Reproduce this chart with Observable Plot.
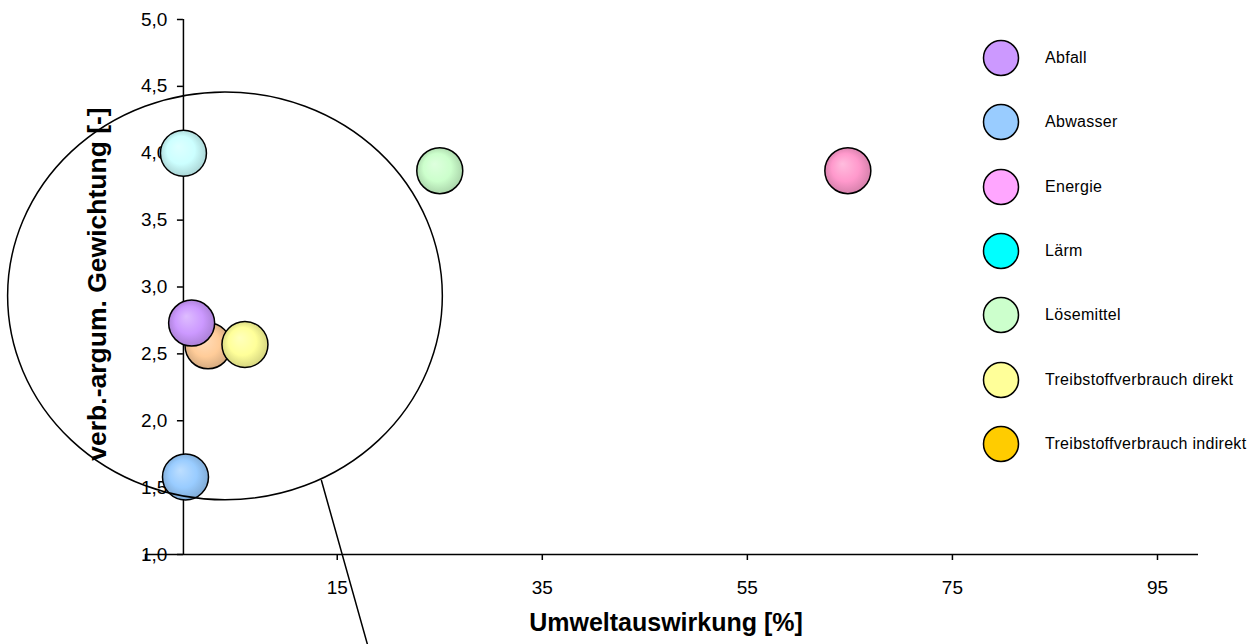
<!DOCTYPE html>
<html>
<head>
<meta charset="utf-8">
<script src="https://cdn.jsdelivr.net/npm/d3@7"></script>
<script src="https://cdn.jsdelivr.net/npm/@observablehq/plot@0.6"></script>
<style>
  html, body { margin: 0; padding: 0; background: #fff; overflow: hidden; }
  #chart { position: relative; width: 1258px; height: 644px; font-family: "Liberation Sans", Arial, sans-serif; }
  #legend { position: absolute; left: 0; top: 0; width: 1258px; height: 644px; pointer-events: none; }
  .entry { position: absolute; display: flex; align-items: center; height: 36px; }
  .entry svg { display: block; }
  .entry span { margin-left: 25px; font-size: 16px; color: #000; letter-spacing: 0.3px; white-space: nowrap; }
</style>
</head>
<body>
<div id="chart"><div id="legend"></div></div>
<script>
// Bubble chart: environmental impact vs. weighting per aspect
const categories = ["Abfall", "Abwasser", "Energie", "Lärm", "Lösemittel", "Treibstoffverbrauch direkt", "Treibstoffverbrauch indirekt"];
const impact = [0.8, 0.2, 64.8, 0.0, 25.0, 6.0, 2.4];          // Umweltauswirkung [%]
const weighting = [2.73, 1.58, 3.87, 4.00, 3.87, 2.57, 2.56];   // verb.-argum. Gewichtung [-]
const bubbleColors = ["#cc99ff", "#99ccff", "#ff99cc", "#ccffff", "#ccffcc", "#ffff99", "#ffcc99"];
const legendColors = ["#cc99ff", "#99ccff", "#ffa6ff", "#00ffff", "#ccffcc", "#ffff99", "#ffcc00"];
const drawOrder = [6, 0, 1, 2, 3, 4, 5];

const xTicks = [15, 35, 55, 75, 95];
const yTicks = [1, 1.5, 2, 2.5, 3, 3.5, 4, 4.5, 5];
const xDomain = [-3.7, 99];
const yDomain = [1, 5];

// Highlight ring around the cluster near the axis, with its pointer line
const ring = {cx: 4.1, cy: 2.93, rx: 21.2, ry: 1.525};
const pointer = [{x: 13.46, y: 1.553}, {x: 17.95, y: 0.327}];

const W = 1258, H = 644;
const marginLeft = 145, marginRight = 60, marginTop = 19, marginBottom = 90;
const xScale = Plot.scale({x: {domain: xDomain, range: [marginLeft, W - marginRight]}});
const yAxisShift = xScale.apply(0) - marginLeft;
const fmt = d => d.toFixed(1).replace(".", ",");

const ringMark = (index, scales) => {
  const cx = scales.x(ring.cx), cy = scales.y(ring.cy);
  const g = d3.create("svg:g");
  g.append("ellipse")
    .attr("cx", cx).attr("cy", cy)
    .attr("rx", scales.x(ring.cx + ring.rx) - cx)
    .attr("ry", cy - scales.y(ring.cy + ring.ry))
    .attr("fill", "none").attr("stroke", "#000").attr("stroke-width", 1.5);
  return g.node();
};

const plot = Plot.plot({
  width: W, height: H,
  marginLeft, marginRight, marginTop, marginBottom,
  x: {domain: xDomain},
  y: {domain: yDomain},
  color: {type: "identity"},
  style: {fontFamily: "'Liberation Sans', Arial, sans-serif", fontSize: "19px", color: "#000", background: "#fff"},
  marks: [
    Plot.ruleY([yDomain[0]], {stroke: "#000", strokeWidth: 1.5}),
    Plot.ruleX([0], {stroke: "#000", strokeWidth: 1.5}),
    Plot.axisX({ticks: [xDomain[0], ...xTicks], tickFormat: d => d < 0 ? "" : String(d), tickSize: 6, tickPadding: 20, label: null, strokeWidth: 1.5}),
    Plot.axisY({ticks: yTicks, tickFormat: fmt, tickSize: 6, tickPadding: 10, dx: yAxisShift, label: null, strokeWidth: 1.5}),
    Plot.text(["Umweltauswirkung [%]"], {frameAnchor: "bottom", dx: -6, dy: 76, fontSize: 25, fontWeight: "bold"}),
    Plot.text(["verb.-argum. Gewichtung [-]"], {frameAnchor: "left", textAnchor: "middle", rotate: -90, dx: -48, dy: -3, fontSize: 26.5, fontWeight: "bold"}),
    Plot.dot(drawOrder, {x: i => impact[i], y: i => weighting[i], r: 23, fill: i => `url(#bubble${i})`, stroke: "#000", strokeWidth: 1.5}),
    ringMark,
    Plot.line(pointer, {x: "x", y: "y", stroke: "#000", strokeWidth: 1.5})
  ]
});

// Shaded fills for the bubbles
const defs = d3.select(plot).insert("defs", ":first-child");
bubbleColors.forEach((c, i) => {
  const grad = defs.append("radialGradient").attr("id", `bubble${i}`)
    .attr("cx", "50%").attr("cy", "50%").attr("r", "55%").attr("fx", "38%").attr("fy", "35%");
  grad.append("stop").attr("offset", "0%").attr("stop-color", d3.interpolateRgb(c, "#fff")(0.35));
  grad.append("stop").attr("offset", "55%").attr("stop-color", c);
  grad.append("stop").attr("offset", "100%").attr("stop-color", d3.color(c).darker(0.6));
});

document.getElementById("chart").prepend(plot);

// Legend on the right
const legend = d3.select("#legend");
categories.forEach((name, i) => {
  const e = legend.append("div").attr("class", "entry")
    .style("left", "982px").style("top", `${40 + i * 64.3}px`);
  const s = e.append("svg").attr("width", 38).attr("height", 38);
  s.append("circle").attr("cx", 19).attr("cy", 19).attr("r", 17.5)
    .attr("fill", legendColors[i]).attr("stroke", "#000").attr("stroke-width", 1.5);
  e.append("span").text(name);
});
</script>
</body>
</html>
